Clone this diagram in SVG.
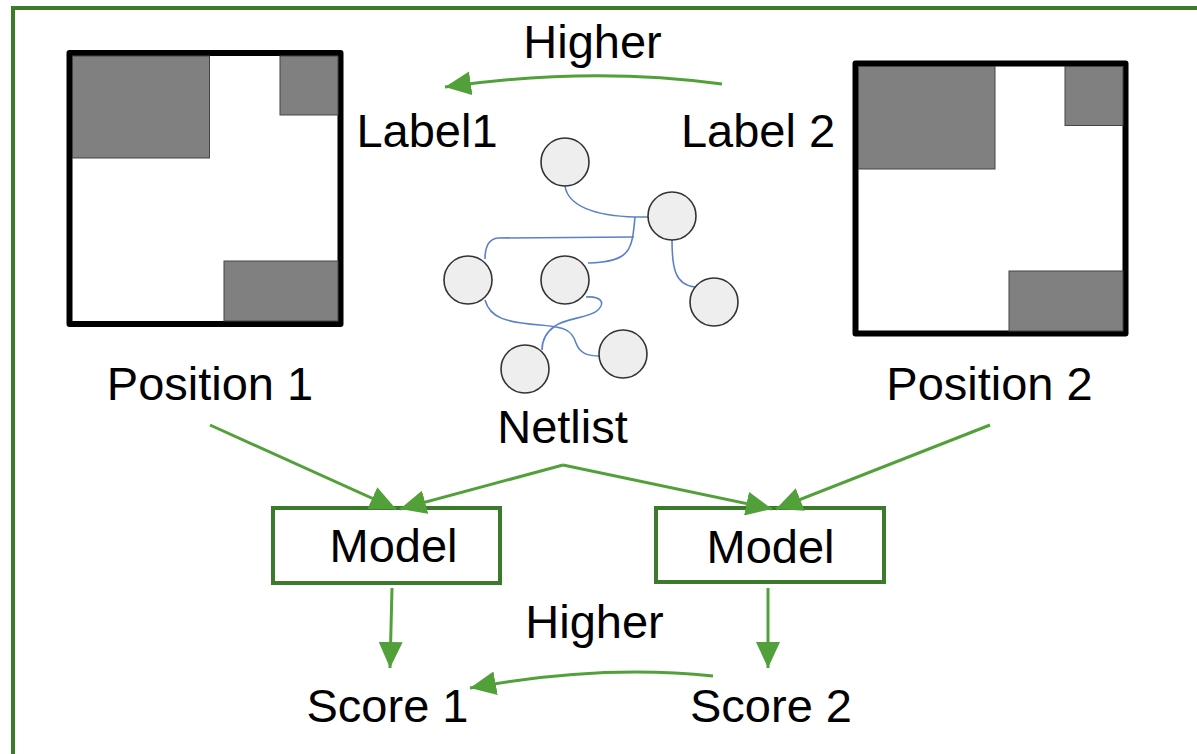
<svg xmlns="http://www.w3.org/2000/svg" width="1197" height="754" viewBox="0 0 1197 754">
<defs>
<style>
text{font-family:"Liberation Sans",Arial,sans-serif;font-size:47px;fill:#000;text-anchor:middle}
.chip{fill:#fff;stroke:#000;stroke-width:6;stroke-linejoin:round}
.blk{fill:#808080;stroke:#444;stroke-width:1}
.arr{fill:none;stroke:#52a03a;stroke-width:3}
.box{fill:#fff;stroke:#3c7a2b;stroke-width:4}
.node{fill:#eeeeee;stroke:#333;stroke-width:1.6}
.wire{fill:none;stroke:#5b80cc;stroke-width:1.6}
</style>
<marker id="ah" viewBox="0 0 26 24" markerWidth="26" markerHeight="24" refX="26" refY="12" orient="auto" markerUnits="userSpaceOnUse">
<path d="M0,0 L26,12 L0,24 z" fill="#52a03a"/>
</marker>
</defs>
<rect x="13" y="8" width="1200" height="760" fill="#fff" stroke="#3e7b27" stroke-width="4"/>

<g id="position1">
<rect class="chip" x="69.5" y="53" width="271" height="271"/>
<rect class="blk" x="72.5" y="56" width="137" height="102"/>
<rect class="blk" x="280" y="56" width="58" height="59"/>
<rect class="blk" x="224" y="261" width="114" height="60"/>
<text x="210" y="400">Position 1</text>
</g>

<g id="position2">
<rect class="chip" x="855.5" y="63.5" width="270" height="270"/>
<rect class="blk" x="858.5" y="66.5" width="136.5" height="102.5"/>
<rect class="blk" x="1065" y="66.5" width="58" height="59"/>
<rect class="blk" x="1009" y="271" width="114" height="60"/>
<text x="989.5" y="400">Position 2</text>
</g>

<g id="label1"><text x="427" y="147">Label1</text></g>
<g id="label2"><text x="758" y="147">Label 2</text></g>

<g id="netlist">
<path class="wire" d="M565,186 C568,206 595,216 635,217 L649,217"/>
<path class="wire" d="M635,217 C632,250 631,262 588,263"/>
<path class="wire" d="M634,237 L498,238 C488,239 485,248 485,259"/>
<path class="wire" d="M672,240 C672,268 675,285 695,287"/>
<path class="wire" d="M485,300 C490,318 505,322 540,325 C565,327 572,330 576,343 C580,354 588,356 600,356"/>
<path class="wire" d="M586,297 C600,296 606,302 598,310 C590,318 565,318 555,326 C545,333 542,342 542,350"/>
<circle class="node" cx="565" cy="162" r="24"/>
<circle class="node" cx="672" cy="216" r="24"/>
<circle class="node" cx="468" cy="280" r="24"/>
<circle class="node" cx="565" cy="280" r="24"/>
<circle class="node" cx="714" cy="302" r="24"/>
<circle class="node" cx="525" cy="369" r="24"/>
<circle class="node" cx="623" cy="354" r="24"/>
<text x="562.5" y="443">Netlist</text>
</g>

<g id="model1">
<rect class="box" x="273" y="508" width="227" height="75"/>
<text x="393.5" y="562">Model</text>
</g>
<g id="model2">
<rect class="box" x="656" y="508" width="228" height="74"/>
<text x="770.5" y="563">Model</text>
</g>

<g id="score1"><text x="387.5" y="722">Score 1</text></g>
<g id="score2"><text x="771" y="722">Score 2</text></g>

<g id="higherTop"><text x="592.5" y="58">Higher</text></g>
<g id="higherBottom"><text x="594.5" y="638">Higher</text></g>

<g id="connectors">
<path class="arr" d="M722,84 Q590,66 445,87" marker-end="url(#ah)"/>
<path class="arr" d="M210,425 L396,509" marker-end="url(#ah)"/>
<path class="arr" d="M563,465 L400,509" marker-end="url(#ah)"/>
<path class="arr" d="M563,465 L772,509" marker-end="url(#ah)"/>
<path class="arr" d="M990,425 L776,509" marker-end="url(#ah)"/>
<path class="arr" d="M392,588 L390,668" marker-end="url(#ah)"/>
<path class="arr" d="M768,588 L768,668" marker-end="url(#ah)"/>
<path class="arr" d="M713,676 Q600,664 470,688" marker-end="url(#ah)"/>
</g>
</svg>
